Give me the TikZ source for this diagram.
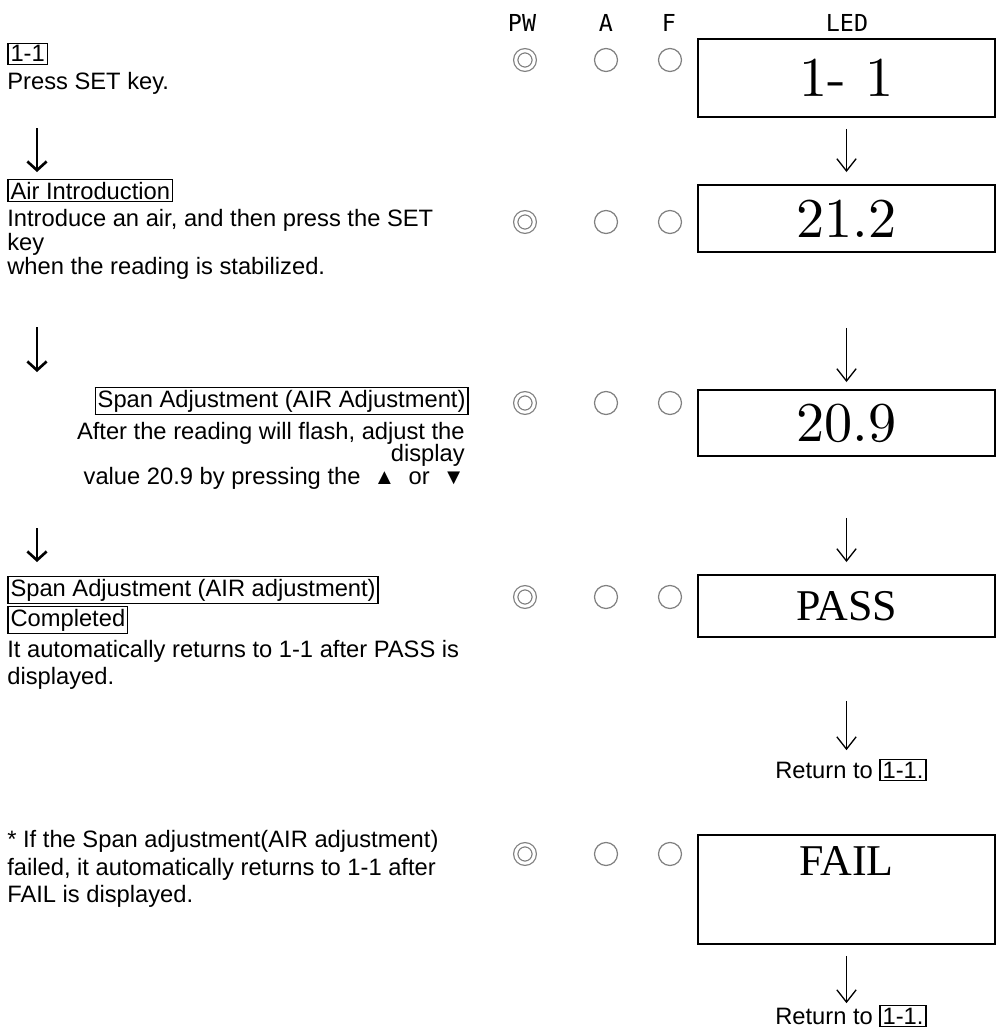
\documentclass[tikz,border=0pt]{standalone}
\usepackage{fontspec}
\newfontfamily\txtfont{Liberation Sans}
\newfontfamily\ledserif{Liberation Serif}
\newfontfamily\hdrfont{DejaVu Sans Mono}
\usetikzlibrary{arrows.meta,calc,positioning}
\newcommand{\keybox}[1]{{\setlength{\fboxsep}{1pt}\setlength{\fboxrule}{0.8pt}\fbox{#1}}}
\newcommand{\tri}[1]{{\fontsize{12.5}{12}\selectfont #1}}
\newcommand{\ledtxt}[1]{\scalebox{3.2}{\fontsize{10}{12}\selectfont #1}}
\tikzset{
  txt/.style={font=\txtfont\fontsize{13.5}{16}\selectfont, inner sep=0pt, anchor=base west},
  txt right/.style={txt, anchor=base east},
  hdr/.style={font=\hdrfont\fontsize{13.3}{15}\selectfont, inner sep=0pt, anchor=base},
  led box/.style={
    draw, rectangle, line width=1.1pt, inner sep=0pt,
    minimum width=5.94cm
  },
  led word/.style={font=\ledserif\fontsize{25}{28}\selectfont, inner sep=0pt},
  lamp/.style={circle, draw=black!50, line width=0.7pt, inner sep=0pt, minimum size=0.46cm},
  pw lamp/.style={lamp, minimum size=0.37cm, double, double distance=1.7pt},
  step arrow/.style={-{Straight Barb[length=5pt,width=11pt]}, line width=1.5pt},
  flow arrow/.style={-{Straight Barb[length=7pt,width=11pt]}, line width=0.75pt},
}

\begin{document}
\begin{tikzpicture}[x=0.02cm, y=-0.02cm]
  \useasboundingbox (0,0) rectangle (997,1034);

  % Column headers
  \node[hdr] (hpw) at (522,32) {PW};
  \node[hdr] (ha) at (606,32) {A};
  \node[hdr] (hf) at (669,32) {F};
  \node[hdr] (hled) at (847,32) {LED};

  % Lamps of each row
  \foreach \row/\y in {1/60, 2/222, 3/403, 4/597, 5/854} {
    \node[pw lamp] (pw\row) at (525,\y) {};
    \node[lamp] (a\row) at (606,\y) {};
    \node[lamp] (f\row) at (670,\y) {};
  }

  % LED displays
  \node[led box, minimum height=1.56cm] (led1) at (846.5,78) {\ledtxt{1- 1}};
  \node[led box, minimum height=1.34cm] (led2) at (846.5,218.5) {\ledtxt{21.2}};
  \node[led box, minimum height=1.32cm] (led3) at (846.5,423) {\ledtxt{20.9}};
  \node[led box, minimum height=1.24cm, led word] (led4) at (846.5,606) {PASS};
  \node[led box, minimum height=2.18cm] (led5) at (846.5,889.5) {};
  \node[led word] (fail) at ($(led5.north)+(0,27)$) {FAIL};

  % Returns
  \node[txt, anchor=base] (ret1) at (851,778) {Return to \keybox{1-1.}};
  \node[txt, anchor=base] (ret2) at (851,1024) {Return to \keybox{1-1.}};

  % Flow on the LED side
  \draw[flow arrow] ($(led1.south)+(0,11)$) -- ($(led2.north)+(0,-12)$);
  \draw[flow arrow] ($(led2.south)+(0,75)$) -- ($(led3.north)+(0,-7)$);
  \draw[flow arrow] ($(led3.south)+(0,61)$) -- ($(led4.north)+(0,-12)$);
  \draw[flow arrow] ($(led4.south)+(0,63)$) -- ($(led4.south |- ret1.north)+(0,-8)$);
  \draw[flow arrow] ($(led5.south)+(0,11)$) -- ($(led5.south |- ret2.north)+(0,-1)$);

  % Step 1
  \node[txt] (s1key) at (7,62) {\keybox{1-1}};
  \node[txt] (s1a) at (7,90) {Press SET key.};

  % Step 2
  \node[txt] (s2key) at (7,199) {\keybox{Air Introduction}};
  \node[txt] (s2a) at (7,226) {Introduce an air, and then press the SET};
  \node[txt] (s2b) at (7,250) {key};
  \node[txt] (s2c) at (7,274) {when the reading is stabilized.};

  % Step 3
  \node[txt right] (s3key) at (469,407) {\keybox{Span Adjustment (AIR Adjustment)}};
  \node[txt right] (s3a) at (465,439) {After the reading will flash, adjust the};
  \node[txt right] (s3b) at (465,461) {display};
  \node[txt right] (s3c) at (465,484) {value 20.9 by pressing the \ \tri{▲} \ or \ \tri{▼}};

  % Step 4
  \node[txt] (s4key) at (7,596) {\keybox{Span Adjustment (AIR adjustment)}};
  \node[txt] (s4done) at (7,626) {\keybox{Completed}};
  \node[txt] (s4a) at (7,657) {It automatically returns to 1-1 after PASS is};
  \node[txt] (s4b) at (7,684) {displayed.};

  % Note on failure
  \node[txt] (n1) at (7,847) {* If the Span adjustment(AIR adjustment)};
  \node[txt] (n2) at (7,875) {failed, it automatically returns to 1-1 after};
  \node[txt] (n3) at (7,902) {FAIL is displayed.};

  % Flow on the text side
  \coordinate (la1) at (37,128);
  \coordinate (lb1) at (37,172);
  \coordinate (la2) at (37,327);
  \coordinate (lb2) at (37,372);
  \coordinate (la3) at (37,528);
  \coordinate (lb3) at (37,562);
  \foreach \i in {1,2,3}
    \draw[step arrow] (la\i) -- (lb\i);

\end{tikzpicture}
\end{document}
